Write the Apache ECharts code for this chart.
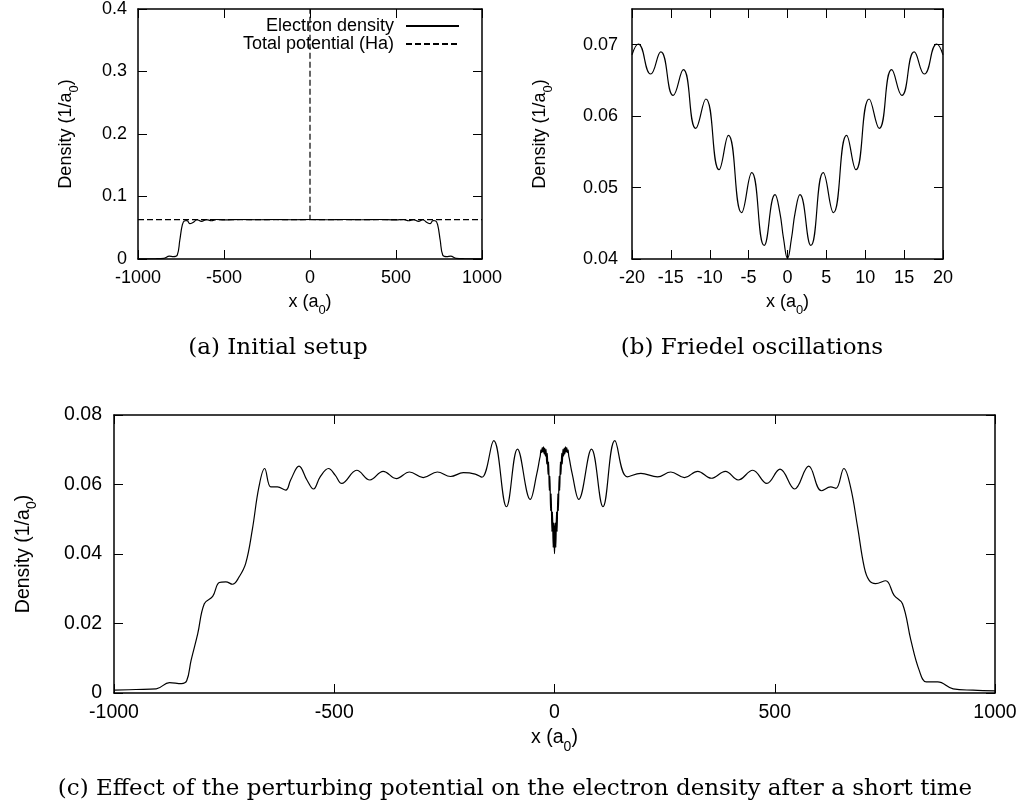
<!DOCTYPE html>
<html><head><meta charset="utf-8">
<script src="https://cdn.jsdelivr.net/npm/echarts@6/dist/echarts.min.js"></script>
<style>html,body{margin:0;padding:0;background:#fff}#c{width:1030px;height:806px}</style>
</head><body><div id="c"></div>
<script>
// ---------- Panel (a): initial setup ----------
const aDensityX = [-1000, -900, -850, -818, -795, -772, -757, -742, -728, -715, -699, -680, -656, -631, -602, -573, -545, -500, -400, -300, -200, -100, 0, 100, 200, 300, 400, 500, 545, 573, 602, 631, 656, 680, 699, 715, 728, 742, 757, 772, 795, 818, 850, 900, 1000];
const aDensityY = [0.0002, 0.0004, 0.001, 0.0045, 0.0038, 0.006, 0.03, 0.055, 0.0612, 0.0615, 0.0565, 0.0585, 0.0628, 0.0602, 0.063, 0.0612, 0.0632, 0.0625, 0.0632, 0.0628, 0.0632, 0.0628, 0.0632, 0.0628, 0.0632, 0.0628, 0.0632, 0.0625, 0.0632, 0.0612, 0.063, 0.0602, 0.0628, 0.0585, 0.0565, 0.0615, 0.0612, 0.055, 0.03, 0.006, 0.0038, 0.0045, 0.001, 0.0004, 0.0002];
// '-' marks a break in the line (the spike is drawn once, not up and back down)
const aPotentialX = [-1000, 0, 0, 0, 0, 1000];
const aPotentialY = [0.063, 0.063, 0.4, '-', 0.063, 0.063];
const aXTicks = [-1000, -500, 0, 500, 1000];
const aYTicks = [0, 0.1, 0.2, 0.3, 0.4];

// ---------- Panel (b): Friedel oscillations ----------
const bX = [-20, -19.2, -17.6, -16.3, -14.7, -13.4, -11.8, -10.5, -8.8, -7.6, -5.9, -4.6, -3.0, -1.6, -1.0, -0.5, 0, 0.5, 1.0, 1.6, 3.0, 4.6, 5.9, 7.6, 8.8, 10.5, 11.8, 13.4, 14.7, 16.3, 17.6, 19.2, 20];
const bY = [0.0686, 0.0701, 0.0659, 0.069, 0.0629, 0.0665, 0.0583, 0.0624, 0.0525, 0.0573, 0.0465, 0.0521, 0.0419, 0.049, 0.0466, 0.0428, 0.0401, 0.0428, 0.0466, 0.049, 0.0419, 0.0521, 0.0465, 0.0573, 0.0525, 0.0624, 0.0583, 0.0665, 0.0629, 0.069, 0.0659, 0.0701, 0.0686];
const bXTicks = [-20, -15, -10, -5, 0, 5, 10, 15, 20];
const bYTicks = [0.04, 0.05, 0.06, 0.07];
const bYMax = 0.075;

// ---------- Panel (c): after a short time ----------
const cLeftX = [-1000, -950, -904, -874, -847, -835, -825, -810, -795, -776, -761, -746, -731, -716, -701, -686, -671, -658, -644, -629, -610, -599, -580, -562, -547, -532, -513, -498, -483, -449, -419, -389, -359, -329, -298, -266, -236, -207, -180, -165, -138, -109, -84, -55, -40, -34, -32.2, -30.8, -29.3, -27.9, -26.4, -25.0, -23.5, -22.1, -20.6];
const cLeftY = [0.0008, 0.001, 0.0012, 0.003, 0.0027, 0.0035, 0.0094, 0.017, 0.0257, 0.0278, 0.0318, 0.032, 0.0313, 0.0334, 0.0373, 0.047, 0.0593, 0.0646, 0.0593, 0.0593, 0.0584, 0.0613, 0.0653, 0.0613, 0.0587, 0.0622, 0.0646, 0.0627, 0.0603, 0.0641, 0.0613, 0.0638, 0.0617, 0.0636, 0.062, 0.0636, 0.0623, 0.0634, 0.063, 0.0621, 0.0726, 0.0536, 0.0702, 0.0557, 0.0632, 0.0672, 0.0684, 0.0700, 0.0692, 0.0706, 0.0693, 0.0708, 0.0688, 0.0705, 0.0682];
const cRightX = [20.6, 22.1, 23.5, 25.0, 26.4, 27.9, 29.3, 30.8, 32.2, 34, 40, 55, 84, 110, 137, 165, 196, 234, 264, 295, 325, 356, 388, 417, 450, 482, 512, 545, 577, 606, 627, 639, 657, 672, 688, 703, 714, 729, 752, 771, 790, 809, 828, 844, 870, 905, 950, 1000];
const cRightY = [0.0682, 0.0705, 0.0688, 0.0708, 0.0693, 0.0706, 0.0692, 0.0700, 0.0684, 0.0672, 0.0632, 0.0557, 0.0702, 0.0536, 0.0726, 0.0622, 0.0632, 0.0622, 0.0636, 0.062, 0.0638, 0.0618, 0.0638, 0.0613, 0.0641, 0.0603, 0.0644, 0.0587, 0.0653, 0.0582, 0.0593, 0.0589, 0.0646, 0.0593, 0.0478, 0.0363, 0.0325, 0.0315, 0.0323, 0.0281, 0.0257, 0.0152, 0.0065, 0.0032, 0.0032, 0.0012, 0.0008, 0.0006];
const cXTicks = [-1000, -500, 0, 500, 1000];
const cYTicks = [0, 0.02, 0.04, 0.06, 0.08];

// ---------- helpers ----------
const SANS = '"Liberation Sans", Arial, sans-serif';
const SERIF = '"DejaVu Serif", serif';
const zip = (xs, ys) => xs.map((x, i) => [x, ys[i]]);
const fmt = v => String(parseFloat(v.toFixed(3)));
const frame = { show: true, onZero: false, lineStyle: { color: '#000', width: 1.5 } };
const tick = { show: true, inside: true, length: 9, lineStyle: { color: '#000', width: 1 } };

function nameStyle(fs) {
  const sfs = Math.round(fs * 0.72);
  const pad = Math.round(fs * 0.88 - 5);
  return {
    fontFamily: SANS, fontSize: fs, color: '#000',
    rich: {
      t: { fontFamily: SANS, fontSize: fs, color: '#000', lineHeight: fs, verticalAlign: 'top' },
      s: { fontFamily: SANS, fontSize: sfs, color: '#000', lineHeight: 10, verticalAlign: 'top', padding: [pad, 0, 0, 0] }
    }
  };
}

function axesFor(g, fs, xt, yt, xMax, yMax, opt) {
  const xInt = xt[1] - xt[0], yInt = yt[1] - yt[0];
  const xa = [
    { gridIndex: g, type: 'value', position: 'bottom', min: xt[0], max: xMax, interval: xInt,
      axisLine: frame, axisTick: tick, splitLine: { show: false },
      axisLabel: { margin: opt.xm, fontSize: fs, fontFamily: SANS, color: '#000', formatter: fmt },
      name: '{t|x (a}{s|0}{t|)}', nameLocation: 'middle', nameGap: opt.xng, nameTextStyle: nameStyle(fs) },
    { gridIndex: g, type: 'value', position: 'top', min: xt[0], max: xMax, interval: xInt,
      axisLine: frame, axisTick: tick, splitLine: { show: false }, axisLabel: { show: false } }
  ];
  const ya = [
    { gridIndex: g, type: 'value', position: 'left', min: yt[0], max: yMax, interval: yInt,
      axisLine: frame, axisTick: tick, splitLine: { show: false },
      axisLabel: { margin: opt.ym, fontSize: fs, fontFamily: SANS, color: '#000', formatter: fmt, showMaxLabel: opt.showMax },
      name: '{t|Density (1/a}{s|0}{t|)}', nameLocation: 'middle', nameGap: opt.yng, nameTextStyle: nameStyle(fs) },
    { gridIndex: g, type: 'value', position: 'right', min: yt[0], max: yMax, interval: yInt,
      axisLine: frame, axisTick: tick, splitLine: { show: false }, axisLabel: { show: false } }
  ];
  return { xa, ya };
}

const A = axesFor(0, 18, aXTicks, aYTicks, aXTicks[aXTicks.length - 1], aYTicks[aYTicks.length - 1], { xm: 10, ym: 11, xng: 34, yng: 63, showMax: true });
const B = axesFor(1, 18, bXTicks, bYTicks, bXTicks[bXTicks.length - 1], bYMax, { xm: 10, ym: 14, xng: 34, yng: 83, showMax: false });
const C = axesFor(2, 19.5, cXTicks, cYTicks, cXTicks[cXTicks.length - 1], cYTicks[cYTicks.length - 1], { xm: 10, ym: 12, xng: 35, yng: 81, showMax: true });

const lineBase = { type: 'line', symbol: 'none', showSymbol: false, animation: false, silent: true,
  lineStyle: { color: '#000', width: 1.2 }, itemStyle: { color: '#000' } };

const cData = zip(cLeftX, cLeftY).concat(zip(bX, bY), zip(cRightX, cRightY));

const option = {
  animation: false,
  backgroundColor: '#fff',
  grid: [
    { left: 138, top: 9, width: 344, height: 250 },
    { left: 632, top: 9, width: 311, height: 250 },
    { left: 114, top: 415, width: 881, height: 278 }
  ],
  xAxis: [...A.xa, ...B.xa, ...C.xa],
  yAxis: [...A.ya, ...B.ya, ...C.ya],
  legend: {
    data: ['Electron density', 'Total potential (Ha)'],
    orient: 'vertical', align: 'right', right: 570, top: 17, padding: 0,
    itemWidth: 53, itemHeight: 10, itemGap: 0,
    itemStyle: { opacity: 0, borderWidth: 0 },
    textStyle: { fontFamily: SANS, fontSize: 18, color: '#000', lineHeight: 17, padding: [0, 7, 0, 0] }
  },
  series: [
    Object.assign({}, lineBase, { name: 'Electron density', xAxisIndex: 0, yAxisIndex: 0, smooth: 0.4,
      data: zip(aDensityX, aDensityY) }),
    Object.assign({}, lineBase, { name: 'Total potential (Ha)', xAxisIndex: 0, yAxisIndex: 0, smooth: false, connectNulls: false,
      lineStyle: { color: '#000', width: 1.2, type: [6, 3] }, data: zip(aPotentialX, aPotentialY) }),
    Object.assign({}, lineBase, { name: 'b', xAxisIndex: 2, yAxisIndex: 2, smooth: 0.5, data: zip(bX, bY) }),
    Object.assign({}, lineBase, { name: 'c', xAxisIndex: 4, yAxisIndex: 4, smooth: 0.4, data: cData })
  ],
  graphic: [
    { type: 'text', x: 278, y: 348, style: { text: '(a) Initial setup', font: '23px ' + SERIF, fill: '#000', align: 'center', verticalAlign: 'middle' } },
    { type: 'text', x: 752, y: 348, style: { text: '(b) Friedel oscillations', font: '23px ' + SERIF, fill: '#000', align: 'center', verticalAlign: 'middle' } },
    { type: 'text', x: 515, y: 789, style: { text: '(c) Effect of the perturbing potential on the electron density after a short time', font: '23px ' + SERIF, fill: '#000', align: 'center', verticalAlign: 'middle' } }
  ]
};

const chart = echarts.init(document.getElementById('c'), null, { renderer: 'canvas' });
chart.setOption(option);
</script>
</body></html>
